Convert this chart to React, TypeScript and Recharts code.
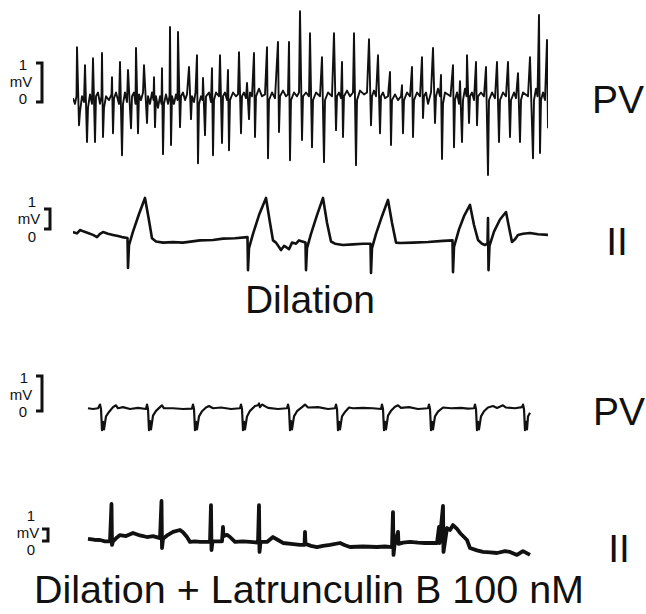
import { LineChart, Line, XAxis, YAxis } from 'recharts';

// time in s (0 .. 4.75), voltage in mV
const pvDilation: [number, number][] = [
  [0, 0.05], [0.02, -0.1], [0.035, 0.1], [0.04, 1.39], [0.06, -0.66], [0.07, -0.3], [0.09, 0.1], [0.11, -0.05],
  [0.12, 0.92], [0.14, -1.1], [0.15, -0.2], [0.17, 0.15], [0.19, -0.1],
  [0.2, 1.1], [0.22, -1.1], [0.23, 0.1], [0.25, 0.2], [0.27, -0.1], [0.285, 0.1],
  [0.29, 1.24], [0.3, -0.97], [0.31, -0.2], [0.33, 0.1], [0.36, 0.0], [0.385, 0.15],
  [0.39, 0.6], [0.4, -0.87], [0.41, 0.05], [0.43, 0.2], [0.46, -0.1],
  [0.47, 1.0], [0.49, -1.45], [0.5, -0.1], [0.52, 0.2], [0.54, -0.05],
  [0.55, 0.79], [0.58, -0.74], [0.59, 0.1], [0.61, 0.2], [0.625, -0.1],
  [0.63, 1.37], [0.65, -0.87], [0.66, 0.15], [0.68, 0.0], [0.7, 0.2],
  [0.71, 0.92], [0.74, -0.6], [0.75, 0.1], [0.77, -0.1], [0.79, 0.2], [0.805, 0.0],
  [0.81, 0.6], [0.82, -0.71], [0.83, 0.1], [0.85, -0.2], [0.87, 0.1], [0.885, -0.1],
  [0.89, 0.84], [0.9, -1.42], [0.91, -0.1], [0.93, 0.15], [0.95, -0.1], [0.965, 0.1],
  [0.97, 1.92], [0.98, -1.18], [0.99, 0.1], [1.01, -0.1], [1.03, 0.15], [1.045, 0.0],
  [1.05, 1.79], [1.07, -0.71], [1.08, 0.1], [1.1, 0.2], [1.12, 0.0], [1.14, 0.15],
  [1.16, 0.87], [1.18, -0.5], [1.19, 0.1], [1.21, -0.05], [1.225, 0.2],
  [1.24, 1.18], [1.25, -1.66], [1.26, -0.1], [1.28, 0.1], [1.295, 0.0],
  [1.3, 0.58], [1.32, -0.92], [1.33, 0.1], [1.36, 0.2], [1.38, -0.05],
  [1.39, 0.84], [1.4, -1.45], [1.41, 0.0], [1.43, 0.2], [1.46, 0.1],
  [1.47, 1.18], [1.49, -1.13], [1.5, 0.1], [1.52, 0.2], [1.54, 0.0],
  [1.55, 0.79], [1.56, -1.32], [1.57, 0.0], [1.6, 0.2], [1.63, 0.1], [1.65, 0.15],
  [1.66, 1.26], [1.68, -0.87], [1.69, 0.1], [1.71, 0.2], [1.73, 0.05],
  [1.74, 0.45], [1.76, -0.5], [1.77, 0.2], [1.79, 0.1],
  [1.81, 1.24], [1.82, -0.97], [1.83, 0.1], [1.86, 0.3], [1.89, 0.1], [1.92, 0.15],
  [1.94, 1.39], [1.95, -1.53], [1.96, 0.0], [1.99, 0.2], [2.02, 0.05],
  [2.05, 1.53], [2.06, -0.84], [2.07, 0.1], [2.1, 0.25], [2.13, 0.1], [2.15, 0.15],
  [2.16, 1.53], [2.17, -1.58], [2.18, 0.0], [2.21, 0.2], [2.24, 0.1], [2.26, 0.2],
  [2.27, 2.34], [2.29, -1.05], [2.3, 0.1], [2.33, 0.2], [2.36, 0.1],
  [2.37, 1.76], [2.39, -1.24], [2.4, 0.0], [2.43, 0.2], [2.47, 0.1],
  [2.49, 1.13], [2.51, -1.63], [2.52, 0.0], [2.55, 0.2], [2.59, 0.1],
  [2.61, 1.76], [2.63, -0.79], [2.64, 0.1], [2.66, 0.2], [2.68, 0.05],
  [2.69, 1.0], [2.7, -0.97], [2.71, 0.1], [2.74, 0.25], [2.77, 0.1], [2.8, 0.2],
  [2.81, 1.76], [2.83, -1.71], [2.84, 0.0], [2.87, 0.25], [2.91, 0.15], [2.94, 0.2],
  [2.96, 1.6], [2.98, -0.66], [2.99, 0.1], [3.01, 0.25], [3.03, 0.1],
  [3.05, 1.18], [3.07, -0.87], [3.08, 0.1], [3.1, 0.2], [3.12, 0.05], [3.15, 0.1],
  [3.17, 0.74], [3.18, -1.18], [3.19, 0.0], [3.22, 0.15], [3.25, 0.0], [3.28, 0.1],
  [3.29, 0.39], [3.3, -0.87], [3.31, 0.0], [3.34, 0.2], [3.37, 0.1],
  [3.39, 0.87], [3.4, -0.97], [3.41, 0.0], [3.44, 0.2], [3.47, 0.1],
  [3.49, 1.13], [3.5, -0.47], [3.51, 0.1], [3.53, 0.2], [3.55, -0.1], [3.58, 0.2],
  [3.6, 1.37], [3.62, -0.6], [3.63, 0.1], [3.65, 0.3], [3.67, 0.1],
  [3.68, 0.66], [3.69, -1.55], [3.7, -0.1], [3.72, 0.2], [3.775, 0.1],
  [3.8, 0.92], [3.81, -1.24], [3.82, 0.0], [3.84, 0.2], [3.86, -0.1],
  [3.87, 0.5], [3.89, -1.1], [3.9, 0.0], [3.92, 0.3], [3.935, 0.1],
  [3.94, 1.18], [3.96, -0.6], [3.97, 0.1], [3.99, 0.2], [4.01, 0.0],
  [4.03, 1.0], [4.04, -0.66], [4.05, 0.1], [4.08, 0.2], [4.11, 0.1],
  [4.13, 0.87], [4.15, -1.97], [4.16, 0.0], [4.19, 0.2], [4.22, 0.05],
  [4.24, 1.0], [4.26, -1.1], [4.27, 0.0], [4.3, 0.2], [4.33, 0.1],
  [4.35, 1.0], [4.37, -0.97], [4.38, 0.0], [4.41, 0.2], [4.43, 0.05],
  [4.45, 0.71], [4.47, -1.1], [4.48, 0.0], [4.5, 0.2], [4.55, 0.1],
  [4.57, 1.13], [4.6, -1.53], [4.61, 0.0], [4.63, 0.3], [4.645, 0.1],
  [4.66, 2.24], [4.67, -1.39], [4.68, 0.0], [4.7, 0.2], [4.72, 0.0],
  [4.74, 1.58], [4.75, -0.74],
];

const iiDilation: [number, number][] = [
  [0, 0.18], [0.04, 0.12], [0.07, 0.27], [0.11, 0.2], [0.15, 0.14], [0.2, 0.05], [0.24, -0.05], [0.27, 0.1],
  [0.3, 0.18], [0.35, 0.1], [0.4, 0.05], [0.45, 0.0], [0.49, -0.05], [0.545, -0.09],
  [0.55, -1.45], [0.56, -0.41], [0.6, 0.2], [0.66, 1.0], [0.72, 1.73], [0.76, 0.7], [0.79, -0.1], [0.83, -0.25],
  [0.9, -0.3], [1.0, -0.28], [1.1, -0.3], [1.27, -0.2], [1.4, -0.18], [1.5, -0.12], [1.62, -0.1], [1.745, -0.05],
  [1.75, -1.55], [1.76, -0.55], [1.8, 0.1], [1.86, 0.95], [1.93, 1.73], [1.97, 0.6], [2.0, -0.2], [2.03, -0.3],
  [2.08, -0.64], [2.11, -0.45], [2.13, -0.5], [2.16, -0.6], [2.19, -0.3], [2.23, -0.35], [2.26, -0.2], [2.325, -0.3],
  [2.33, -1.55], [2.34, -0.55], [2.38, 0.1], [2.44, 0.95], [2.5, 1.73], [2.54, 0.6], [2.58, -0.25], [2.62, -0.35],
  [2.7, -0.41], [2.8, -0.38], [2.9, -0.35], [2.975, -0.35],
  [2.98, -1.68], [2.99, -0.55], [3.03, 0.1], [3.09, 0.9], [3.15, 1.64], [3.19, 0.6], [3.23, -0.3], [3.27, -0.32],
  [3.4, -0.3], [3.55, -0.27], [3.7, -0.22], [3.795, -0.2],
  [3.8, -1.64], [3.81, -0.5], [3.86, 0.3], [3.91, 0.9], [3.97, 1.41], [4.01, 0.5], [4.05, -0.18], [4.09, -0.35],
  [4.12, -0.41], [4.145, -0.35],
  [4.15, 0.82], [4.155, -1.55], [4.165, -0.45], [4.21, 0.2], [4.27, 0.75], [4.33, 1.09], [4.36, 0.4], [4.39, -0.27],
  [4.42, -0.15], [4.45, 0.05], [4.5, 0.1], [4.57, 0.14], [4.65, 0.08], [4.75, 0.05],
];

const pvLatrunculin: [number, number][] = [
  [0.15, 0.02], [0.2, 0.0], [0.25, 0.02], [0.27, 0.12], [0.28, 0.0],
  [0.29, -0.57], [0.3, -0.35], [0.31, -0.55], [0.33, -0.2], [0.36, -0.08], [0.4, 0.05], [0.43, 0.1], [0.45, 0.02],
  [0.5, 0.05], [0.57, 0.0], [0.65, 0.03], [0.73, 0.0],
  [0.74, 0.12], [0.75, 0.0], [0.76, -0.57], [0.77, -0.33], [0.78, -0.55], [0.8, -0.18], [0.83, -0.05],
  [0.87, 0.05], [0.89, 0.1], [0.91, 0.02], [1.0, 0.02], [1.1, 0.0], [1.19, 0.01],
  [1.2, 0.12], [1.21, 0.0], [1.22, -0.57], [1.23, -0.35], [1.24, -0.55], [1.26, -0.2], [1.29, -0.06],
  [1.33, 0.04], [1.36, 0.08], [1.4, 0.02], [1.48, 0.04], [1.58, 0.0], [1.67, 0.02],
  [1.68, 0.12], [1.69, 0.0], [1.7, -0.57], [1.71, -0.35], [1.72, -0.55], [1.74, -0.2], [1.77, -0.05],
  [1.82, 0.08], [1.85, 0.1], [1.86, 0.15], [1.87, 0.05], [1.89, 0.12], [1.95, 0.03], [2.05, 0.0], [2.14, 0.02],
  [2.15, 0.12], [2.16, 0.0], [2.17, -0.57], [2.18, -0.33], [2.19, -0.55], [2.21, -0.2], [2.24, -0.06],
  [2.29, 0.05], [2.32, 0.12], [2.35, 0.04], [2.45, 0.05], [2.55, 0.0], [2.62, 0.02],
  [2.63, 0.12], [2.64, 0.0], [2.65, -0.57], [2.66, -0.35], [2.67, -0.55], [2.69, -0.2], [2.72, -0.08],
  [2.76, 0.04], [2.8, 0.02], [2.9, 0.03], [3.0, 0.02], [3.08, 0.0],
  [3.09, 0.12], [3.1, 0.0], [3.11, -0.57], [3.12, -0.35], [3.13, -0.55], [3.15, -0.18], [3.18, -0.05],
  [3.22, 0.06], [3.25, 0.1], [3.28, 0.03], [3.36, 0.05], [3.45, 0.0], [3.55, 0.02],
  [3.56, 0.12], [3.57, 0.0], [3.58, -0.57], [3.59, -0.35], [3.6, -0.55], [3.62, -0.2], [3.65, -0.07],
  [3.7, 0.04], [3.78, 0.02], [3.88, 0.03], [3.95, 0.01], [4.01, 0.02],
  [4.02, 0.12], [4.03, 0.0], [4.04, -0.57], [4.05, -0.35], [4.06, -0.55], [4.08, -0.2], [4.11, -0.06],
  [4.15, 0.04], [4.2, 0.08], [4.24, 0.03], [4.3, 0.1], [4.33, 0.04], [4.42, 0.02], [4.49, 0.05],
  [4.5, 0.12], [4.51, 0.0], [4.52, -0.57], [4.53, -0.35], [4.54, -0.55], [4.55, -0.2], [4.57, -0.1],
];

const iiLatrunculin: [number, number][] = [
  [0.15, 0.08], [0.21, 0.02], [0.27, 0.0], [0.32, -0.1], [0.37, -0.08], [0.385, 2.77], [0.39, -0.38], [0.4, -0.1],
  [0.44, 0.2], [0.47, 0.38], [0.53, 0.3], [0.6, 0.54], [0.67, 0.35], [0.74, 0.23], [0.8, 0.3], [0.87, 0.15],
  [0.885, 3.0], [0.89, -0.62], [0.9, 0.1], [0.95, 0.4], [1.0, 0.62], [1.07, 0.77], [1.1, 0.6], [1.14, 0.23], [1.17, -0.15],
  [1.22, -0.1], [1.27, -0.15], [1.37, -0.15], [1.38, 2.69], [1.385, -0.77], [1.395, -0.1],
  [1.49, -0.1], [1.5, 1.0], [1.505, 0.3], [1.54, 0.4], [1.57, 0.23], [1.62, -0.15], [1.7, -0.1], [1.77, -0.15], [1.85, -0.2],
  [1.86, 2.69], [1.865, -0.92], [1.875, -0.15], [1.94, -0.15], [2.0, 0.23], [2.05, 0.0], [2.1, -0.23], [2.18, -0.3], [2.27, -0.38],
  [2.315, -0.38], [2.32, 0.62], [2.325, -0.3], [2.38, -0.45], [2.44, -0.54], [2.5, -0.45], [2.57, -0.38], [2.67, -0.23],
  [2.72, -0.4], [2.77, -0.54], [2.9, -0.5], [3.04, -0.54], [3.12, -0.5], [3.19, -0.54],
  [3.2, 2.15], [3.205, -1.15], [3.215, -0.4], [3.25, 0.62], [3.255, -0.3],
  [3.3, -0.2], [3.37, -0.15], [3.45, -0.2], [3.52, -0.23], [3.64, -0.23],
  [3.66, 1.0], [3.665, -0.23], [3.7, 2.62], [3.705, -0.92],
  [3.74, 0.92], [3.77, 0.77], [3.8, 1.15], [3.84, 0.85], [3.87, 0.54], [3.94, 0.0], [3.97, -0.62],
  [4.04, -0.8], [4.1, -0.92], [4.17, -0.95], [4.24, -1.0], [4.32, -0.85], [4.37, -0.92], [4.44, -1.15], [4.5, -0.85], [4.57, -1.15],
];

const FONT = 'Liberation Sans, Arial, Helvetica, sans-serif';
const INK = '#111';

interface TraceProps {
  points: [number, number][];
  top: number;
  height: number;
  yDomain: [number, number];
  strokeWidth: number;
}

function Trace({ points, top, height, yDomain, strokeWidth }: TraceProps) {
  const data = points.map(([t, v]) => ({ t, v }));
  return (
    <div style={{ position: 'absolute', left: 73, top }}>
      <LineChart width={475} height={height} data={data} margin={{ top: 0, right: 0, bottom: 0, left: 0 }}>
        <XAxis dataKey="t" type="number" domain={[0, 4.75]} hide />
        <YAxis type="number" domain={yDomain} hide allowDataOverflow />
        <Line
          dataKey="v"
          type="linear"
          stroke={INK}
          strokeWidth={strokeWidth}
          strokeLinejoin="round"
          dot={false}
          isAnimationActive={false}
        />
      </LineChart>
    </div>
  );
}

interface ScaleBarProps {
  x: number;
  y1: number;
  y2: number;
  oneX: number;
  oneY: number;
  mvX: number;
  mvY: number;
  zeroX: number;
  zeroY: number;
}

// "1 mV 0" label with its bracket
function ScaleBar({ x, y1, y2, oneX, oneY, mvX, mvY, zeroX, zeroY }: ScaleBarProps) {
  return (
    <g>
      <path d={`M${x - 6} ${y1} H${x} V${y2} H${x - 6}`} fill="none" stroke={INK} strokeWidth={3} />
      <text x={oneX} y={oneY} textAnchor="middle" fontSize={15}>1</text>
      <text x={mvX} y={mvY} textAnchor="middle" fontSize={15}>mV</text>
      <text x={zeroX} y={zeroY} textAnchor="middle" fontSize={15}>0</text>
    </g>
  );
}

export default function App() {
  return (
    <div style={{ position: 'absolute', left: 0, top: 0, width: 646, height: 614, background: '#fff', fontFamily: FONT }}>
      <Trace points={pvDilation} top={5} height={175} yDomain={[-2.1, 2.5]} strokeWidth={1.9} />
      <Trace points={iiDilation} top={192} height={88} yDomain={[-2, 2]} strokeWidth={2.6} />
      <Trace points={pvLatrunculin} top={372} height={74} yDomain={[-1, 1]} strokeWidth={2.2} />
      <Trace points={iiLatrunculin} top={488} height={78} yDomain={[-2, 4]} strokeWidth={3.8} />
      <svg width={646} height={614} style={{ position: 'absolute', left: 0, top: 0, pointerEvents: 'none' }} fontFamily={FONT} fill={INK}>
        <ScaleBar x={42} y1={63} y2={102} oneX={23} oneY={70} mvX={21} mvY={87} zeroX={23} zeroY={104} />
        <ScaleBar x={50} y1={209} y2={229} oneX={32} oneY={207} mvX={29} mvY={224} zeroX={32} zeroY={242} />
        <ScaleBar x={42} y1={376} y2={411} oneX={24} oneY={383} mvX={21} mvY={400} zeroX={23} zeroY={417} />
        <ScaleBar x={48} y1={529} y2={541} oneX={31} oneY={521} mvX={28} mvY={538} zeroX={31} zeroY={555} />
        <text x={618} y={113} textAnchor="middle" fontSize={39}>PV</text>
        <text x={617} y={255} textAnchor="middle" fontSize={39}>II</text>
        <text x={310} y={313} textAnchor="middle" fontSize={39}>Dilation</text>
        <text x={619} y={425} textAnchor="middle" fontSize={39}>PV</text>
        <text x={619} y={562} textAnchor="middle" fontSize={39}>II</text>
        <text x={309} y={603} textAnchor="middle" fontSize={39.5}>Dilation + Latrunculin B 100 nM</text>
      </svg>
    </div>
  );
}
